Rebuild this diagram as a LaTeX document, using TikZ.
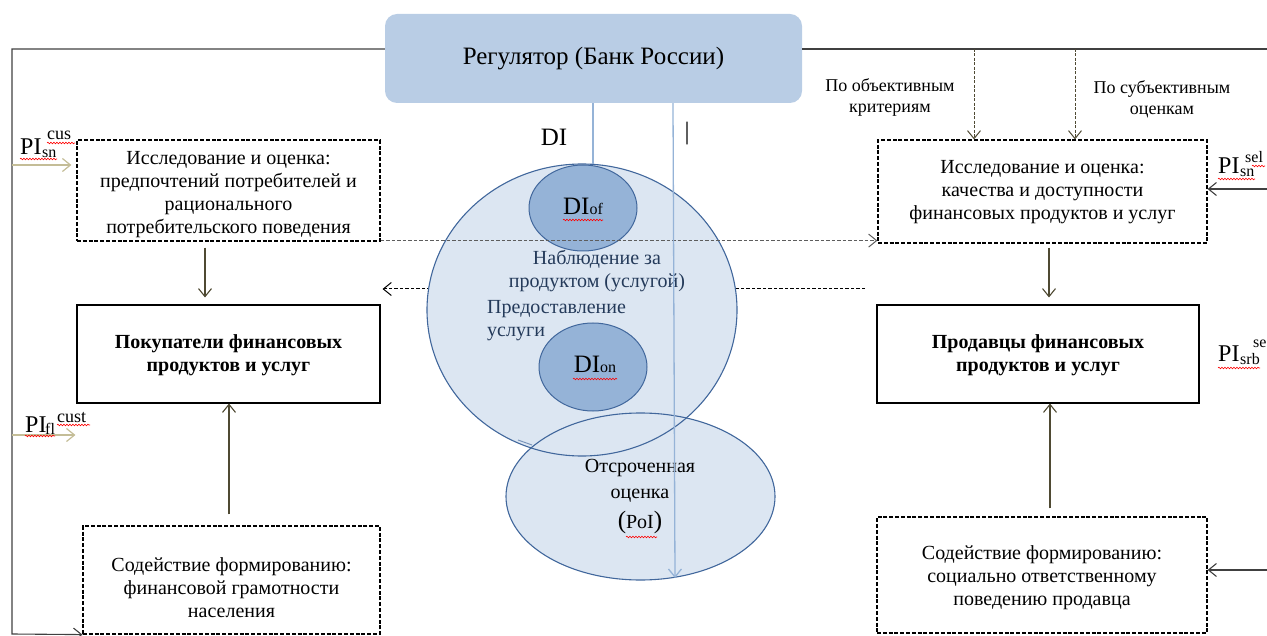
\documentclass[tikz,border=0pt]{standalone}
\usepackage{fontspec}
\setmainfont{Liberation Serif}
\usetikzlibrary{arrows.meta,shapes.geometric,decorations.pathmorphing}
\definecolor{regfill}{HTML}{B9CDE5}
\definecolor{cfill}{HTML}{DCE6F2}
\definecolor{cstroke}{HTML}{41679C}
\definecolor{sfill}{HTML}{95B3D7}
\definecolor{bluel}{HTML}{95B3D7}
\definecolor{olive}{HTML}{4F4A33}
\definecolor{tanc}{HTML}{C4BD97}
\definecolor{ctext}{HTML}{243A5A}
\definecolor{grayd}{HTML}{404040}
\newcommand\fs[2]{\fontsize{#1}{#2}\selectfont}
\begin{document}
\begin{tikzpicture}[x=1pt,y=-1pt,
  tipx/.style={-{Straight Barb[length=8pt,width=13pt]}},
  dbox/.style={draw,line width=1.2pt,dash pattern=on 4pt off 1.8pt,inner sep=0pt},
  sbox/.style={draw,line width=1.1pt,inner sep=0pt},
  txt/.style={align=center,inner sep=0pt,font=\fs{20}{23}},
  btxt/.style={align=center,inner sep=0pt,font=\fs{20}{23}\bfseries},
  oarrow/.style={tipx,draw=olive,line width=1.1pt},
  odash/.style={tipx,draw=olive,line width=1pt,dash pattern=on 3pt off 1.5pt},
  tarrow/.style={tipx,draw=tanc,line width=1.2pt},
  garrow/.style={tipx,draw=grayd,line width=1.1pt},
  frame/.style={draw=grayd,line width=1.1pt},
  bigell/.style={ellipse,fill=cfill,inner sep=0pt},
  smell/.style={ellipse,fill=sfill,draw=cstroke,line width=1pt,inner sep=0pt},
  bline/.style={draw=bluel,line width=1.3pt},
  squig/.style={draw=red,line width=0.6pt,decorate,decoration={snake,amplitude=0.8pt,segment length=3pt}},
  pibig/.style={anchor=base west,inner sep=0pt,font=\fs{24}{24}},
  pismall/.style={anchor=base west,inner sep=0pt,font=\fs{16}{16}},
  pisup/.style={anchor=base west,inner sep=0pt,font=\fs{18}{18}}]
\useasboundingbox (0,0) rectangle (1267,636);

% regulator
\node[rounded corners=12pt,fill=regfill,minimum width=417pt,minimum height=89pt,inner sep=0pt,font=\fs{25}{28}] (reg) at (593.5,58.5) {Регулятор (Банк России)};

% frame
\coordinate (fTL) at (12,49);
\coordinate (fBL) at (12,634);
\coordinate (fTR) at (1267,49);

% boxes
\node[dbox,minimum width=303pt,minimum height=101pt] (lb1) at (228.5,190.5) {};
\node[sbox,minimum width=303pt,minimum height=98pt] (lb2) at (228.5,354) {};
\node[dbox,minimum width=297pt,minimum height=108pt] (lb3) at (231.5,580) {};
\node[dbox,minimum width=329pt,minimum height=103pt] (rb1) at (1042.5,191.5) {};
\node[sbox,minimum width=322pt,minimum height=98pt] (rb2) at (1038,354) {};
\node[dbox,minimum width=330pt,minimum height=116pt] (rb3) at (1042,575) {};

\node[txt] (lb1t) at (228.5,195) {Исследование и оценка:\\предпочтений потребителей и\\рационального\\потребительского поведения};
\node[btxt] (lb2t) at (228.5,355) {Покупатели финансовых\\продуктов и услуг};
\node[txt] (lb3t) at (231.5,588) {Содействие формированию:\\финансовой грамотности\\населения};
\node[txt] (rb1t) at (1042.5,192) {Исследование и оценка:\\качества и доступности\\финансовых продуктов и услуг};
\node[btxt] (rb2t) at (1038,355) {Продавцы финансовых\\продуктов и услуг};
\node[txt] (rb3t) at (1042,578) {Содействие формированию:\\социально ответственному\\поведению продавца};

\draw[frame] ([yshift=9.5pt]reg.west) -- (fTL) -- (fBL) -- (lb3.south west);
\draw[frame,tipx] ([xshift=-12pt]lb3.south west) -- (lb3.south west);
\draw[frame] ([yshift=9.5pt]reg.east) -- (fTR);

% lower dashed line (behind circles)
\coordinate (d2s) at (865,289);
\draw[tipx,draw=black,line width=1pt,dash pattern=on 3.5pt off 2pt] (d2s) -- ([xshift=2pt]d2s -| lb2.east);

% ellipses
\node[bigell,minimum width=310pt,minimum height=292pt] (big) at (582,310) {};
\node[bigell,minimum width=269pt,minimum height=167pt] (poi) at (640.5,496.5) {};
\draw[cstroke,line width=1.1pt] (big.center) ellipse [x radius=155pt, y radius=146pt];
\draw[cstroke,line width=1.1pt] (poi.center) ellipse [x radius=134.5pt, y radius=83.5pt];
\coordinate (tailA) at (518,440);
\coordinate (tailB) at (532,445);
\draw[draw=cstroke!70,line width=1pt] (tailA) -- (tailB);
\node[smell,minimum width=108pt,minimum height=86pt] (dof) at (583,208) {};
\node[smell,minimum width=108pt,minimum height=88pt] (don) at (593,367) {};

% texts in ellipses
\node[inner sep=0pt,anchor=base,font=\fs{25}{25}] (doft) at (583,215) {DI{\fs{16}{16}of}};
\node[inner sep=0pt,anchor=base,font=\fs{25}{25}] (dont) at (595,373) {DI{\fs{16}{16}on}};
\coordinate (sq1a) at (563,220); \coordinate (sq1b) at (603,220);
\draw[squig] (sq1a) -- (sq1b);
\coordinate (sq2a) at (573,379); \coordinate (sq2b) at (617,379);
\draw[squig] (sq2a) -- (sq2b);
\node[txt,text=ctext] (obs) at (597,271.5) {Наблюдение за\\продуктом (услугой)};
\node[txt,text=ctext,align=left,anchor=west] (prov) at (487,320.5) {Предоставление\\услуги};
\node[inner sep=0pt,align=center,font=\fs{20}{26}] (poit) at (640,481) {Отсроченная\\оценка};
\node[inner sep=0pt,font=\fs{20}{20}] (poit2) at (640,522) {{\fs{25}{25}(}PoI{\fs{25}{25})}};
\coordinate (sq3a) at (626,537); \coordinate (sq3b) at (657,537);
\draw[squig] (sq3a) -- (sq3b);

% dashed line upper (over circles)
\draw[tipx,draw=grayd!85,line width=1pt,dash pattern=on 3.5pt off 2pt] ([yshift=1pt]lb1.south east) -- ([yshift=1pt]lb1.south east -| rb1.west);

% blue lines
\draw[bline] ([xshift=-0.5pt]reg.south) -- ([xshift=-0.5pt]reg.south |- dof.north);
\coordinate (bEnd) at (675,578);
\draw[bline,tipx] ([xshift=79.5pt]reg.south) -- (bEnd);

% DI and bar
\node[inner sep=0pt,font=\fs{25}{25}] (dil) at (554,137) {DI};
\node[inner sep=0pt,font=\fs{25}{25}] (bar) at (687,134) {|};

% vertical arrows
\draw[oarrow] ([xshift=-23.5pt,yshift=-6pt]lb1.south) -- ([xshift=-23.5pt,yshift=7pt]lb2.north);
\draw[oarrow] ([xshift=0.5pt,yshift=11pt]lb2.south |- lb3.north) -- ([xshift=0.5pt]lb2.south);
\draw[oarrow] ([xshift=6.5pt,yshift=-4pt]rb1.south) -- ([xshift=11pt,yshift=7pt]rb2.north);
\draw[oarrow] ([xshift=12pt,yshift=8pt]rb2.south |- rb3.north) -- ([xshift=12pt]rb2.south);

% top dashed arrows
\coordinate (tA) at (974,49);
\coordinate (tB) at (1075,49);
\draw[odash] (tA) -- (tA |- rb1.north);
\draw[odash] (tB) -- (tB |- rb1.north);
\node[inner sep=0pt,align=center,font=\fs{18}{21}] (lobj) at (890,97.5) {По объективным\\критериям};
\node[inner sep=0pt,align=center,font=\fs{18}{21}] (lsub) at (1162,99) {По субъективным\\оценкам};

% side arrows
\coordinate (fL1) at (12,165);
\draw[tarrow] (fL1) -- ([xshift=-5pt]fL1 -| lb1.west);
\coordinate (fL2) at (12,435);
\draw[tarrow] (fL2) -- ([xshift=-1pt]fL2 -| lb2.west);
\coordinate (fR1) at (1267,189);
\draw[garrow] (fR1) -- (fR1 -| rb1.east);
\coordinate (fR2) at (1267,570);
\draw[garrow] (fR2) -- (fR2 -| rb3.east);

% PI labels
\node[pibig] (pi1) at (20,155) {PI};
\node[pismall] (pi1s) at (42,158) {sn};
\node[pisup] (pi1p) at (47,140) {cus};
\coordinate (s1a) at (20,159); \coordinate (s1b) at (57,159);
\draw[squig] (s1a) -- (s1b);
\coordinate (s1c) at (47,143); \coordinate (s1d) at (75,143);
\draw[squig] (s1c) -- (s1d);

\node[pibig] (pi2) at (25,432) {PI};
\node[pismall] (pi2s) at (45,434) {fl};
\node[pisup] (pi2p) at (57,422) {cust};
\coordinate (s2a) at (25,436); \coordinate (s2b) at (55,436);
\draw[squig] (s2a) -- (s2b);
\coordinate (s2c) at (57,425); \coordinate (s2d) at (90,425);
\draw[squig] (s2c) -- (s2d);

\node[pibig] (pi3) at (1218,174) {PI};
\node[pismall] (pi3s) at (1240,177) {sn};
\node[pismall] (pi3p) at (1245,163) {sel};
\coordinate (s3a) at (1218,179); \coordinate (s3b) at (1255,179);
\draw[squig] (s3a) -- (s3b);
\coordinate (s3c) at (1252,166); \coordinate (s3d) at (1265,166);
\draw[squig] (s3c) -- (s3d);

\node[pibig] (pi4) at (1218,362) {PI};
\node[pismall] (pi4s) at (1240,365) {srb};
\node[pismall] (pi4p) at (1253,348) {se};
\coordinate (s4a) at (1218,368); \coordinate (s4b) at (1260,368);
\draw[squig] (s4a) -- (s4b);
\end{tikzpicture}
\end{document}
